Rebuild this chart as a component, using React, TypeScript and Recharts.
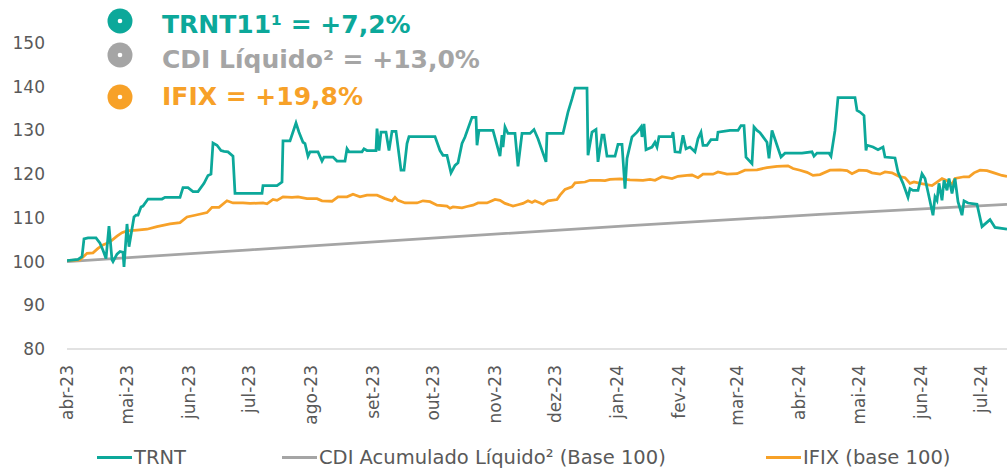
import { LineChart, Line, XAxis, YAxis, Legend } from "recharts"

const monthTicks = [0, 30, 61, 91, 122, 153, 183, 214, 244, 275, 306, 335, 366, 396, 427, 457]
const monthLabels = ["abr-23", "mai-23", "jun-23", "jul-23", "ago-23", "set-23", "out-23", "nov-23", "dez-23", "jan-24", "fev-24", "mar-24", "abr-24", "mai-24", "jun-24", "jul-24"]
const yTicks = [80, 90, 100, 110, 120, 130, 140, 150]

// days since 01/04/2023
const trntDays = [
  0, 5.5, 7.5, 8.5, 10.5, 14.5, 16.5, 18, 19.5, 21, 22.5, 23, 25, 26.5, 28, 28.5, 30, 31, 33.5, 34.5,
  35.5, 37, 38, 40.5, 47.5, 49, 56.5, 58, 60.5, 63, 65.5, 68.5, 70.5, 72, 73, 75, 77, 78.5, 80.5, 83,
  84, 97.5, 98, 105, 107.5, 108, 111.5, 114.5, 116, 118, 119, 120.5, 121.5, 125.5, 127.5, 128.5, 133, 135, 139, 140,
  141, 147.5, 148.5, 150, 154.5, 155, 156, 157, 159.5, 161, 162.5, 164.5, 167, 168.5, 170, 171, 184, 186.5, 188, 190,
  192, 194, 195.5, 197.5, 199, 202.5, 204.5, 205, 206, 213, 216.5, 217.5, 218, 219, 220.5, 224, 225.5, 227.5, 231.5, 233.5,
  235.5, 239.5, 240, 248, 250.5, 252.5, 254, 260, 260.5, 262.5, 264.5, 265.5, 267.5, 268.5, 270, 274, 275.5, 277.5, 279, 280,
  282.5, 285, 287, 287.5, 288.5, 289.5, 292.5, 294, 295, 296, 302.5, 303, 304, 306.5, 308, 309.5, 311.5, 314, 315.5, 317,
  318, 320, 322, 325, 325.5, 331.5, 335.5, 337, 338.5, 339.5, 342.5, 343.5, 345, 346.5, 350, 351, 352.5, 355, 357, 359,
  367.5, 372.5, 373.5, 375, 381, 382, 384, 385.5, 394, 395, 396.5, 398.5, 399.5, 400, 403, 405.5, 408, 409, 414, 415.5,
  418, 420.5, 421.5, 423, 425.5, 427.5, 429, 430.5, 433, 434, 435, 436, 437.5, 438.5, 440, 441, 442.5, 444, 445.5, 447.5,
  448.5, 450.5, 455, 457.5, 461.5, 464, 470,
]
const trntValues = [
  100.2, 100.5, 101.1, 105.2, 105.4, 105.4, 104.2, 102.6, 100.7, 108.1, 100.4, 100.0, 101.7, 102.3, 102.1, 98.8, 108.6, 103.4, 110.2, 110.6,
  110.6, 112.5, 112.7, 114.3, 114.3, 114.7, 114.7, 116.9, 116.9, 116.0, 116.0, 117.9, 119.7, 120.0, 127.1, 126.6, 125.4, 125.2, 125.1, 124.1,
  115.6, 115.6, 117.4, 117.4, 118.2, 127.6, 127.6, 131.7, 129.6, 127.3, 127.0, 124.1, 125.1, 125.1, 123.0, 123.9, 123.9, 123.0, 123.0, 125.8,
  125.1, 125.1, 125.8, 125.4, 125.4, 130.4, 125.4, 129.6, 129.6, 125.4, 129.8, 129.8, 120.9, 120.9, 127.0, 128.6, 128.6, 125.4, 124.3, 124.3,
  120.3, 122.0, 122.6, 127.0, 128.5, 133.0, 133.0, 126.6, 130.0, 130.0, 124.1, 128.9, 126.2, 130.8, 129.3, 129.3, 121.8, 129.3, 129.3, 130.2,
  128.1, 122.8, 129.3, 129.3, 134.2, 137.2, 139.7, 139.7, 124.3, 129.6, 130.2, 122.8, 128.9, 128.9, 124.1, 124.1, 126.8, 126.8, 116.7, 123.6,
  128.5, 129.6, 130.8, 128.5, 131.5, 125.6, 126.2, 127.3, 126.2, 128.6, 128.6, 129.6, 125.1, 125.0, 128.9, 125.8, 126.2, 125.1, 128.1, 129.6,
  126.6, 126.6, 127.9, 127.9, 129.6, 130.0, 130.0, 131.1, 131.1, 123.9, 122.4, 130.8, 130.0, 129.5, 127.3, 123.6, 130.0, 126.6, 123.9, 124.8,
  124.8, 125.1, 124.1, 124.8, 124.8, 124.1, 130.0, 137.5, 137.5, 134.6, 134.2, 133.4, 125.4, 126.6, 126.2, 125.6, 126.2, 123.9, 123.7, 120.5,
  117.9, 114.7, 116.7, 116.3, 116.3, 120.1, 119.0, 115.9, 110.6, 114.8, 114.0, 117.9, 114.0, 118.6, 116.3, 119.0, 115.6, 119.0, 113.7, 110.6,
  113.9, 113.4, 113.1, 108.0, 109.6, 107.8, 107.4,
]

const ifixDays = [
  0, 6.5, 10, 13, 15.5, 18, 21.5, 25, 27.5, 30, 35, 40, 45, 51.5, 56.5, 60, 64, 70, 72.5, 76,
  80, 83, 88, 91.5, 98, 100, 103, 105, 108, 112.5, 115.5, 120, 125, 127.5, 132.5, 135.5, 140, 143, 146.5, 150,
  155, 159, 162.5, 164, 165.5, 169, 175, 178, 181.5, 185, 190, 191.5, 193, 197.5, 200, 203, 205.5, 210, 214, 216.5,
  219, 223, 225.5, 228, 230.5, 232.5, 234, 238, 240.5, 245, 246.5, 249, 252.5, 254, 259, 261.5, 266.5, 269, 271.5, 276.5,
  281.5, 288, 291.5, 294, 297.5, 302.5, 305.5, 310, 312.5, 315.5, 318, 323, 325.5, 330, 335, 339, 345, 350, 355, 360.5,
  363, 366.5, 370, 373, 376.5, 381.5, 386.5, 390, 392.5, 396, 400, 402.5, 406.5, 409, 412.5, 416, 419, 421.5, 423.5, 426.5,
  432.5, 435, 437.5, 440, 442.5, 444, 448.5, 451, 453.5, 456.5, 460, 463.5, 467.5, 470,
]
const ifixValues = [
  100.2, 100.4, 101.9, 102.0, 103.0, 103.8, 104.5, 105.8, 106.6, 107.0, 107.2, 107.4, 108.0, 108.6, 108.9, 110.2, 110.6, 111.2, 112.4, 112.4,
  113.9, 113.4, 113.4, 113.3, 113.4, 113.2, 114.2, 114.0, 114.8, 114.7, 114.8, 114.4, 114.4, 113.9, 113.8, 114.8, 114.8, 115.4, 114.8, 115.2,
  115.2, 114.4, 113.9, 114.7, 114.0, 113.4, 113.4, 113.9, 113.7, 112.9, 112.7, 112.2, 112.5, 112.3, 112.6, 112.9, 113.4, 113.4, 114.2, 114.0,
  113.3, 112.7, 113.0, 113.3, 113.9, 113.5, 113.9, 113.1, 113.9, 114.2, 115.2, 116.5, 117.1, 118.0, 118.2, 118.6, 118.6, 118.5, 118.8, 118.9,
  118.7, 118.6, 118.8, 118.6, 119.4, 119.0, 119.5, 119.7, 119.8, 119.2, 120.0, 120.0, 120.5, 120.0, 120.1, 120.9, 121.0, 121.5, 121.8, 121.9,
  121.3, 120.9, 120.4, 119.7, 119.9, 120.9, 121.0, 120.8, 120.1, 120.9, 120.8, 120.3, 120.0, 120.5, 120.3, 119.5, 119.2, 117.9, 118.2, 117.9,
  117.4, 118.2, 119.0, 118.5, 117.7, 119.0, 119.4, 119.4, 120.3, 120.9, 120.8, 120.3, 119.7, 119.5,
]

const cdiDays = [0, 91.5, 186.5, 281.5, 376.5, 470]
const cdiValues = [100.0, 102.7, 105.5, 108.2, 110.8, 113.1]

const seriesNames = ["TRNT", "CDI Acumulado Líquido² (Base 100)", "IFIX (base 100)"]
const headlineTexts = ["TRNT11¹ = +7,2%", "CDI Líquido² = +13,0%", "IFIX = +19,8%"]

const TEAL = "#0CA89A"
const GRAY = "#A5A5A5"
const ORANGE = "#F7A128"
const colors = [TEAL, GRAY, ORANGE]

const toPoints = (days: number[], values: number[]) => days.map((d, i) => ({ d, v: values[i] }))
const trntData = toPoints(trntDays, trntValues)
const cdiData = toPoints(cdiDays, cdiValues)
const ifixData = toPoints(ifixDays, ifixValues)

const FONT = "'DejaVu Sans', Verdana, sans-serif"

function MonthTick({ x, y, payload }: any) {
  const i = monthTicks.indexOf(payload.value)
  return (
    <g transform={`translate(${x},${y})`}>
      <text transform="rotate(-90)" x={-8} dy="0.35em" textAnchor="end" fill="#595959" fontSize={17} fontFamily={FONT}>
        {monthLabels[i]}
      </text>
    </g>
  )
}

function BottomLegend() {
  const lefts = [97, 282, 766]
  return (
    <div style={{ position: "relative", width: 1007, height: 30, fontFamily: FONT, fontSize: 19.5, color: "#595959" }}>
      {seriesNames.map((name, i) => (
        <div key={name} style={{ position: "absolute", left: lefts[i], top: 0, height: 30, display: "flex", alignItems: "center", whiteSpace: "nowrap" }}>
          <span style={{ display: "inline-block", width: 35, height: 3, background: colors[i], marginRight: 2 }} />
          <span>{name}</span>
        </div>
      ))}
    </div>
  )
}

export default function App() {
  const circleY = [21, 55, 97]
  const textY = [33, 68, 105]
  return (
    <div style={{ position: "absolute", left: 0, top: 0, width: 1007, height: 472, background: "#fff" }}>
      <LineChart width={1007} height={472} margin={{ top: 43, right: 0, left: 0, bottom: 0 }}>
        <XAxis
          dataKey="d"
          type="number"
          domain={[0, 470]}
          ticks={monthTicks}
          tick={<MonthTick />}
          tickLine={false}
          axisLine={{ stroke: "#D9D9D9", strokeWidth: 1.5 }}
          height={93}
          interval={0}
          allowDataOverflow
        />
        <YAxis
          type="number"
          domain={[80, 150]}
          ticks={yTicks}
          width={67}
          axisLine={false}
          tickLine={false}
          tickMargin={16}
          tick={{ fill: "#595959", fontSize: 17, fontFamily: FONT }}
          interval={0}
        />
        <Legend verticalAlign="bottom" height={30} content={() => <BottomLegend />} wrapperStyle={{ left: 0, width: 1007 }} />
        <Line data={cdiData} dataKey="v" name={seriesNames[1]} type="linear" stroke={GRAY} strokeWidth={2.75} dot={false} isAnimationActive={false} />
        <Line data={ifixData} dataKey="v" name={seriesNames[2]} type="linear" stroke={ORANGE} strokeWidth={2.75} dot={false} isAnimationActive={false} />
        <Line data={trntData} dataKey="v" name={seriesNames[0]} type="linear" stroke={TEAL} strokeWidth={2.75} dot={false} isAnimationActive={false} />
      </LineChart>
      <svg width={520} height={120} style={{ position: "absolute", left: 0, top: 0, pointerEvents: "none" }}>
        {headlineTexts.map((t, i) => (
          <g key={t}>
            <circle cx={120} cy={circleY[i]} r={12.5} fill={colors[i]} />
            <circle cx={120} cy={circleY[i]} r={2.3} fill="#fff" />
            <text x={162} y={textY[i]} fill={colors[i]} fontSize={25} fontWeight="bold" fontFamily={FONT}>
              {t}
            </text>
          </g>
        ))}
      </svg>
    </div>
  )
}
